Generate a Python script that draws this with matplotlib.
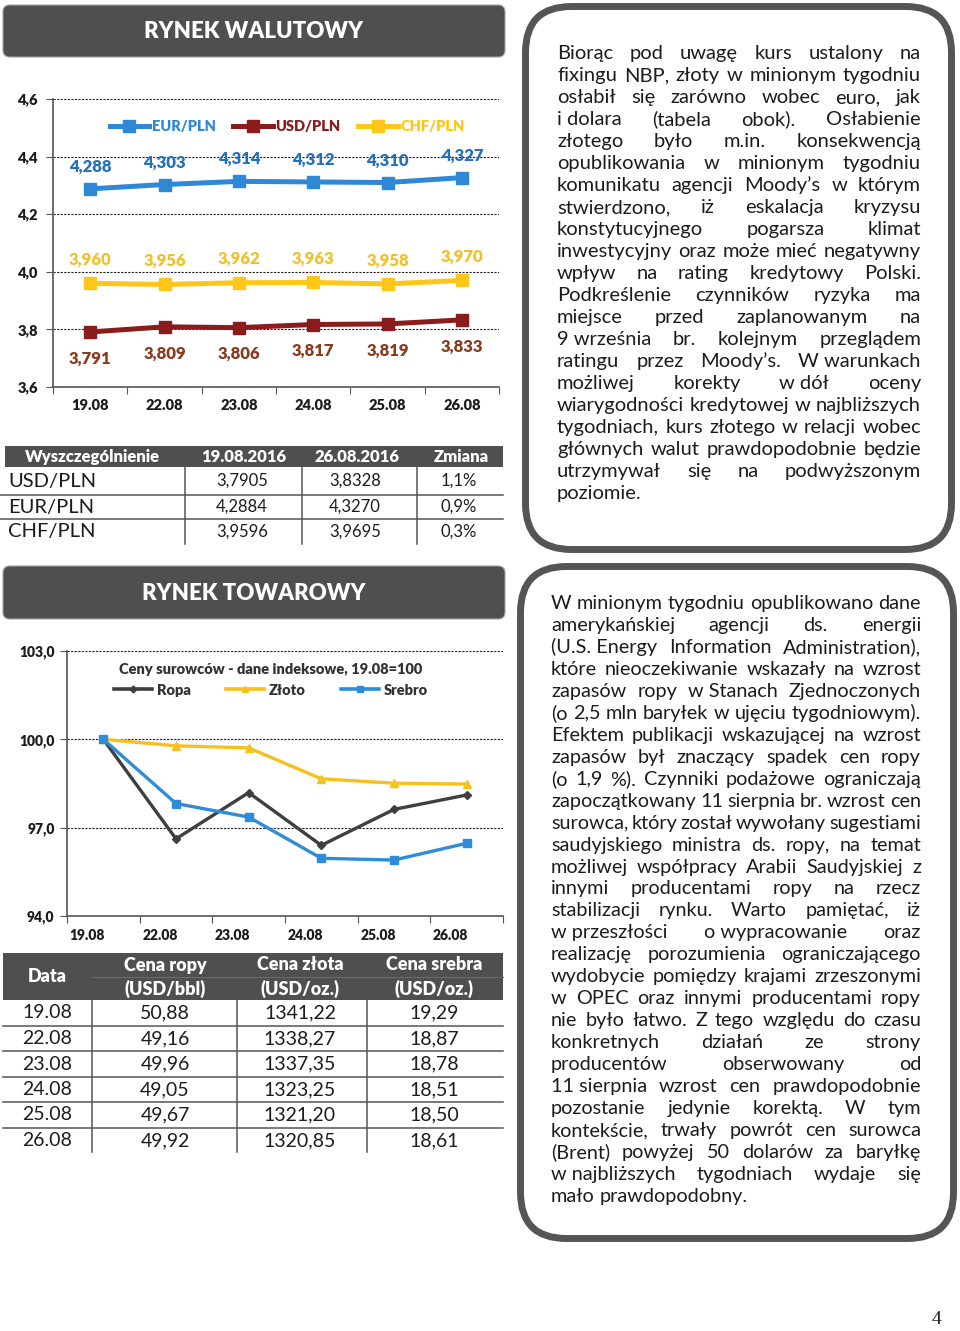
import matplotlib
matplotlib.use('Agg')
import matplotlib.pyplot as plt
from matplotlib.patches import FancyBboxPatch, Rectangle
from matplotlib.lines import Line2D

plt.rcParams['font.family'] = ['Lato', 'DejaVu Sans']

W, H = 960, 1331
BOLD = 'heavy'

# --- data -------------------------------------------------------------
days = ['19.08', '22.08', '23.08', '24.08', '25.08', '26.08']
eur_pln = [4.288, 4.303, 4.314, 4.312, 4.310, 4.327]
usd_pln = [3.791, 3.809, 3.806, 3.817, 3.819, 3.833]
chf_pln = [3.960, 3.956, 3.962, 3.963, 3.958, 3.970]

fx_header = ['Wyszczególnienie', '19.08.2016', '26.08.2016', 'Zmiana']
fx_names = ['USD/PLN', 'EUR/PLN', 'CHF/PLN']
fx_1908 = ['3,7905', '4,2884', '3,9596']
fx_2608 = ['3,8328', '4,3270', '3,9695']
fx_change = ['1,1%', '0,9%', '0,3%']

ropa_idx = [100.0, 96.62, 98.19, 96.40, 97.62, 98.11]
zloto_idx = [100.0, 99.78, 99.71, 98.66, 98.51, 98.48]
srebro_idx = [100.0, 97.82, 97.36, 95.96, 95.90, 96.47]

cm_header = [('Cena ropy', '(USD/bbl)'), ('Cena złota', '(USD/oz.)'), ('Cena srebra', '(USD/oz.)')]
ropa_usd = ['50,88', '49,16', '49,96', '49,05', '49,67', '49,92']
zloto_usd = ['1341,22', '1338,27', '1337,35', '1323,25', '1321,20', '1320,85']
srebro_usd = ['19,29', '18,87', '18,78', '18,51', '18,50', '18,61']

text_fx = [
    "Biorąc pod uwagę kurs ustalony na",
    "fixingu NBP, złoty w minionym tygodniu",
    "osłabił się zarówno wobec euro, jak",
    "i~dolara (tabela obok). Osłabienie",
    "złotego było m.in. konsekwencją",
    "opublikowania w minionym tygodniu",
    "komunikatu agencji Moody’s w którym",
    "stwierdzono, iż eskalacja kryzysu",
    "konstytucyjnego pogarsza klimat",
    "inwestycyjny oraz może mieć negatywny",
    "wpływ na rating kredytowy Polski.",
    "Podkreślenie czynników ryzyka ma",
    "miejsce przed zaplanowanym na",
    "9~września br. kolejnym przeglądem",
    "ratingu przez Moody’s. W~warunkach",
    "możliwej korekty w~dół oceny",
    "wiarygodności kredytowej w najbliższych",
    "tygodniach, kurs złotego w relacji wobec",
    "głównych walut prawdopodobnie będzie",
    "utrzymywał się na podwyższonym",
    "poziomie.",
]

text_cm = [
    "W minionym tygodniu opublikowano dane",
    "amerykańskiej agencji ds. energii",
    "(U.S.~Energy Information Administration),",
    "które nieoczekiwanie wskazały na wzrost",
    "zapasów ropy w~Stanach Zjednoczonych",
    "(o 2,5 mln baryłek w ujęciu tygodniowym).",
    "Efektem publikacji wskazującej na wzrost",
    "zapasów był znaczący spadek cen ropy",
    "(o 1,9 %). Czynniki podażowe ograniczają",
    "zapoczątkowany 11 sierpnia br. wzrost cen",
    "surowca, który został wywołany sugestiami",
    "saudyjskiego ministra ds. ropy, na temat",
    "możliwej współpracy Arabii Saudyjskiej z",
    "innymi producentami ropy na rzecz",
    "stabilizacji rynku. Warto pamiętać, iż",
    "w~przeszłości o~wypracowanie oraz",
    "realizację porozumienia ograniczającego",
    "wydobycie pomiędzy krajami zrzeszonymi",
    "w OPEC oraz innymi producentami ropy",
    "nie było łatwo. Z tego względu do czasu",
    "konkretnych działań ze strony",
    "producentów obserwowany od",
    "11~sierpnia wzrost cen prawdopodobnie",
    "pozostanie jedynie korektą. W tym",
    "kontekście, trwały powrót cen surowca",
    "(Brent) powyżej 50 dolarów za baryłkę",
    "w~najbliższych tygodniach wydaje się",
    "mało prawdopodobny.",
]

DARK = '#4f4f4f'
INK = '#1c1c1c'

fig = plt.figure(figsize=(W / 100, H / 100), dpi=100)
page = fig.add_axes([0, 0, 1, 1])
page.set_xlim(0, W)
page.set_ylim(H, 0)
page.axis('off')


def px_axes(x0, y0, x1, y1):
    a = fig.add_axes([x0 / W, 1 - y1 / H, (x1 - x0) / W, (y1 - y0) / H])
    a.patch.set_alpha(0)
    return a


def header(y0, y1, title):
    page.add_patch(FancyBboxPatch((3, y0), 502, y1 - y0,
                                  boxstyle='round,pad=0,rounding_size=7',
                                  fc=DARK, ec='#a0a0a0', lw=0.8))
    page.text(254, (y0 + y1) / 2 + 1, title, color='white', fontsize=16,
              fontweight=BOLD, ha='center', va='center')


def round_box(x0, y0, x1, y1):
    page.add_patch(FancyBboxPatch((x0, y0), x1 - x0, y1 - y0,
                                  boxstyle='round,pad=0,rounding_size=46',
                                  fc='white', ec='#555555', lw=5))


def justified(lines, x0, x1, y0, dy, size):
    r = fig.canvas.get_renderer()

    def width(s, fs):
        t = page.text(0, 0, s, fontsize=fs)
        w = t.get_window_extent(r).width
        t.remove()
        return w

    space = width('a a', size) - width('aa', size)
    # shrink font if the tightest line does not fit
    widest = 0
    for line in lines:
        toks = [w.replace('~', ' ') for w in line.split(' ')]
        widest = max(widest, sum(width(t, size) for t in toks) + space * 0.6 * (len(toks) - 1))
    if widest > x1 - x0:
        size *= (x1 - x0) / widest
        space = width('a a', size) - width('aa', size)
    for k, line in enumerate(lines):
        toks = [w.replace('~', ' ') for w in line.split(' ')]
        ws = [width(t, size) for t in toks]
        last = k == len(lines) - 1
        gap = space if (last or len(toks) == 1) else (x1 - x0 - sum(ws)) / (len(toks) - 1)
        x = x0
        y = y0 + k * dy
        for t, w in zip(toks, ws):
            page.text(x, y, t, fontsize=size, color=INK, ha='left', va='baseline')
            x += w + gap


def fmt_comma(v, nd):
    return f'{v:.{nd}f}'.replace('.', ',')


# --- headers and text boxes --------------------------------------------
header(5, 57, 'RYNEK WALUTOWY')
header(566, 619, 'RYNEK TOWAROWY')
round_box(525.5, 6.5, 951.5, 549.5)
round_box(520.5, 566.5, 953.5, 1238.5)
justified(text_fx, 557, 921, 59, 22, 14.5)
justified(text_cm, 551, 921, 609, 21.96, 14.5)

# --- chart 1: exchange rates --------------------------------------------
ax1 = px_axes(53, 99, 499, 387)
x = list(range(len(days)))
series1 = [
    ('EUR/PLN', eur_pln, '#2E88D6', '#2370C0', 16),
    ('USD/PLN', usd_pln, '#8B1C1C', '#8B3A1E', -19),
    ('CHF/PLN', chf_pln, '#FFC61A', '#EFC12A', 17),
]
handles = []
for name, vals, col, lcol, off in series1:
    ax1.plot(x, vals, color=col, lw=3.6, marker='s', ms=8.5, zorder=3, clip_on=False)
    for xi, v in zip(x, vals):
        ax1.annotate(fmt_comma(v, 3), (xi, v), xytext=(0, off), textcoords='offset points',
                     ha='center', va='center', fontsize=12, fontweight=BOLD, color=lcol)
    handles.append(Line2D([], [], color=col, lw=3.6, marker='s', ms=8, label=name))

ax1.set_xlim(-0.5, 5.5)
ax1.set_ylim(3.6, 4.6)
yt = [3.6, 3.8, 4.0, 4.2, 4.4, 4.6]
ax1.set_yticks(yt, [fmt_comma(v, 1) for v in yt])
ax1.set_xticks([i - 0.5 for i in range(7)], [''] * 7)
ax1.set_xticks(x, days, minor=True)
ax1.tick_params(axis='x', which='major', length=5, color='#555555')
ax1.tick_params(axis='x', which='minor', length=0, pad=9)
ax1.tick_params(axis='y', length=5, color='#555555', pad=6)
for lab in ax1.get_xticklabels(minor=True) + ax1.get_yticklabels():
    lab.set_fontweight(BOLD)
    lab.set_fontsize(10.5)
    lab.set_color(INK)
ax1.yaxis.grid(True, linestyle=(0, (2, 1.2)), color='#222222', lw=0.8)
ax1.set_axisbelow(True)
for s in ['top', 'right']:
    ax1.spines[s].set_visible(False)
for s in ['left', 'bottom']:
    ax1.spines[s].set_color('#555555')
    ax1.spines[s].set_linewidth(1.2)
leg1 = ax1.legend(handles=handles, loc='center', bbox_to_anchor=(0.525, 0.903), ncol=3,
                  frameon=False, handlelength=2.7, handletextpad=0.2, columnspacing=1.2,
                  labelcolor='linecolor', prop={'weight': BOLD, 'size': 10.5})

# --- table 1 -------------------------------------------------------------
page.add_patch(Rectangle((5, 446), 498, 21, fc=DARK, ec='none'))
col_x = [92, 244, 357, 461]
for cx, h in zip(col_x, fx_header):
    page.text(cx, 457, h, color='white', fontsize=12, fontweight=BOLD, ha='center', va='center')
row_y = [481, 507, 532]
for ry, name, a, b, c in zip(row_y, fx_names, fx_1908, fx_2608, fx_change):
    page.text(8, ry, name, color=INK, fontsize=14.5, ha='left', va='center')
    for cx, v in zip(col_x[1:], [a, b, c]):
        page.text(cx - 2, ry, v, color=INK, fontsize=12, ha='center', va='center')
for yy in [495, 519]:
    page.plot([0, 503], [yy, yy], color='#555555', lw=1.1)
for xx in [185, 302, 417]:
    page.plot([xx, xx], [467, 544], color='#555555', lw=1.1)

# --- chart 2: commodities ------------------------------------------------
ax2 = px_axes(67, 651, 503, 916)
series2 = [
    ('Ropa', ropa_idx, '#3F3F3F', 'D', 4.5),
    ('Złoto', zloto_idx, '#F6C01E', '^', 5.5),
    ('Srebro', srebro_idx, '#2E8CD8', 's', 5.5),
]
h2 = []
for name, vals, col, mk, ms in series2:
    ax2.plot(x, vals, color=col, lw=2.4, marker=mk, ms=ms, zorder=3)
    h2.append(Line2D([], [], color=col, lw=2.6, marker=mk, ms=ms - 1, label=name))
ax2.set_xlim(-0.5, 5.5)
ax2.set_ylim(94, 103)
yt2 = [94, 97, 100, 103]
ax2.set_yticks(yt2, [fmt_comma(v, 1) for v in yt2])
ax2.set_xticks([i - 0.5 for i in range(7)], [''] * 7)
ax2.set_xticks([i - 0.22 for i in x], days, minor=True)
ax2.tick_params(axis='x', which='major', length=5, color='#555555')
ax2.tick_params(axis='x', which='minor', length=0, pad=9)
ax2.tick_params(axis='y', length=5, color='#555555', pad=4)
for lab in ax2.get_xticklabels(minor=True) + ax2.get_yticklabels():
    lab.set_fontweight(BOLD)
    lab.set_fontsize(10)
    lab.set_color(INK)
ax2.yaxis.grid(True, linestyle=(0, (2, 1.2)), color='#222222', lw=0.8)
ax2.set_axisbelow(True)
for s in ['top', 'right']:
    ax2.spines[s].set_visible(False)
for s in ['left', 'bottom']:
    ax2.spines[s].set_color('#555555')
    ax2.spines[s].set_linewidth(1.2)
leg2 = ax2.legend(handles=h2, loc='center', bbox_to_anchor=(0.468, 0.891), ncol=3,
                  frameon=False, handlelength=2.6, handletextpad=0.35, columnspacing=2.4,
                  title='Ceny surowców - dane indeksowe, 19.08=100',
                  title_fontproperties={'weight': BOLD, 'size': 10.5},
                  labelcolor='#333333', prop={'weight': BOLD, 'size': 10.5})
leg2.get_title().set_color('#333333')

# --- table 2 -------------------------------------------------------------
page.add_patch(Rectangle((3, 953), 500, 47, fc=DARK, ec='none'))
page.plot([92, 503], [976.5, 976.5], color='#6a6a6a', lw=0.8)
c2 = [47, 165, 300, 434]
page.text(c2[0], 977, 'Data', color='white', fontsize=13, fontweight=BOLD, ha='center', va='center')
for cx, (l1, l2) in zip(c2[1:], cm_header):
    page.text(cx, 965, l1, color='white', fontsize=13, fontweight=BOLD, ha='center', va='center')
    page.text(cx, 989, l2, color='white', fontsize=13, fontweight=BOLD, ha='center', va='center')
r2 = [1013, 1038.5, 1064, 1089.5, 1115, 1140.5]
for ry, d, a, b, c in zip(r2, days, ropa_usd, zloto_usd, srebro_usd):
    for cx, v in zip(c2, [d, a, b, c]):
        page.text(cx, ry, v, color=INK, fontsize=14, ha='center', va='center')
for yy in [1025.5, 1051, 1076.5, 1102, 1127.5]:
    page.plot([3, 503], [yy, yy], color='#555555', lw=1.1)
for xx in [92, 237, 367]:
    page.plot([xx, xx], [1000, 1152], color='#555555', lw=1.1)

page.text(937, 1320, '4', fontsize=14, family='Liberation Serif', color=INK, ha='center', va='center')

fig.savefig('out.png', dpi=100)
